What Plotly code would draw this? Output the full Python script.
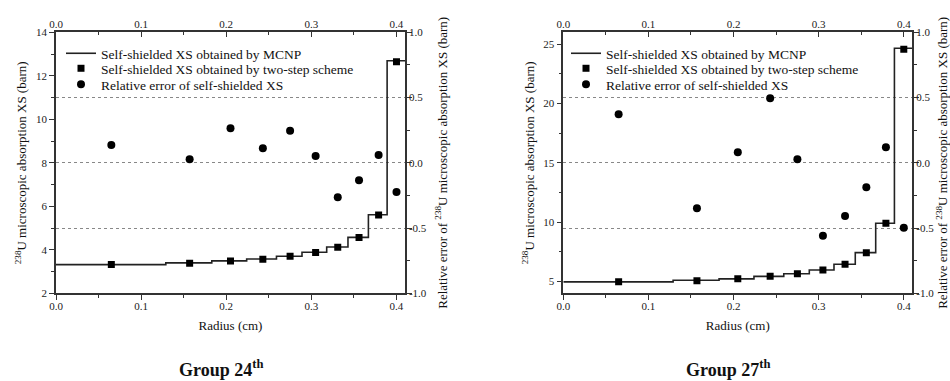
import plotly.graph_objects as go

# ---------------- data ----------------
ring_edges = [0.0, 0.129, 0.183, 0.224, 0.259, 0.289, 0.318, 0.343, 0.367, 0.389, 0.41]
ring_centers = [0.065, 0.157, 0.205, 0.243, 0.275, 0.305, 0.331, 0.356, 0.379, 0.400]

g24_mcnp = [3.32, 3.40, 3.49, 3.58, 3.70, 3.89, 4.13, 4.57, 5.61, 12.69]
g24_twostep = [3.32, 3.38, 3.48, 3.57, 3.70, 3.88, 4.12, 4.56, 5.60, 12.65]
g24_relerr = [0.136, 0.027, 0.264, 0.111, 0.246, 0.052, -0.264, -0.134, 0.060, -0.224]

g27_mcnp = [4.96, 5.10, 5.22, 5.43, 5.65, 5.97, 6.45, 7.43, 9.90, 24.65]
g27_twostep = [4.98, 5.06, 5.23, 5.43, 5.65, 5.96, 6.44, 7.42, 9.90, 24.57]
g27_relerr = [0.372, -0.349, 0.080, 0.494, 0.027, -0.559, -0.408, -0.188, 0.119, -0.497]

x_ticks = [0.0, 0.1, 0.2, 0.3, 0.4]
x_ticklabels = ["0.0", "0.1", "0.2", "0.3", "0.4"]
err_ticks = [-1.0, -0.5, 0.0, 0.5, 1.0]
err_ticklabels = ["-1.0", "-0.5", "0.0", "0.5", "1.0"]

legend_names = ["Self-shielded XS obtained by MCNP",
                "Self-shielded XS obtained by two-step scheme",
                "Relative error of self-shielded XS"]
group_labels = ["Group 24<sup>th</sup>", "Group 27<sup>th</sup>"]
x_title = "Radius (cm)"
yl_title = "<sup>238</sup>U microscopic absorption XS (barn)"
yr_title = "Relative error of <sup>238</sup>U microscopic absorption XS (barn)"

FONT = "Liberation Serif"
W, H = 950, 381

fig = go.Figure()

panels = [
    dict(mcnp=g24_mcnp, two=g24_twostep, err=g24_relerr, xa="x", xtop="x2", ya="y", ya2="y2",
         legends=["legend", "legend2", "legend3"]),
    dict(mcnp=g27_mcnp, two=g27_twostep, err=g27_relerr, xa="x3", xtop="x4", ya="y3", ya2="y4",
         legends=["legend4", "legend5", "legend6"]),
]

for p in panels:
    step_y = p["mcnp"] + [p["mcnp"][-1]]
    fig.add_trace(go.Scatter(x=ring_edges, y=step_y, mode="lines", line_shape="hv",
                             line=dict(color="#222", width=1.6), name=legend_names[0],
                             xaxis=p["xa"], yaxis=p["ya"], legend=p["legends"][0]))
    fig.add_trace(go.Scatter(x=ring_centers, y=p["two"], mode="markers",
                             marker=dict(symbol="square", size=7, color="black"),
                             name=legend_names[1], xaxis=p["xa"], yaxis=p["ya"], legend=p["legends"][1]))
    fig.add_trace(go.Scatter(x=ring_centers, y=p["err"], mode="markers",
                             marker=dict(symbol="circle", size=8, color="black"),
                             name=legend_names[2], xaxis=p["xa"], yaxis=p["ya2"], legend=p["legends"][2]))
    # invisible companion so the top radius axis is drawn
    fig.add_trace(go.Scatter(x=ring_centers, y=p["two"], mode="markers", marker=dict(opacity=0),
                             showlegend=False, hoverinfo="skip", xaxis=p["xtop"], yaxis=p["ya"]))

xd_left = [56 / W, 405 / W]
xd_right = [563.3 / W, 912.3 / W]
yd = [(H - 293.3) / H, (H - 32.3) / H]

tickfont = dict(family=FONT, size=11, color="#222")
titlefont = dict(family=FONT, size=13, color="#111")
common_axis = dict(showline=True, linecolor="#333", linewidth=1.5, tickfont=tickfont,
                   ticklen=5, tickwidth=1.2, tickcolor="#333", showgrid=False, zeroline=False,
                   automargin=False)

def xbottom(domain, anchor):
    return dict(common_axis, domain=domain, anchor=anchor, range=[0, 0.41], tickvals=x_ticks,
                ticktext=x_ticklabels, ticks="outside", ticklabelstandoff=-3,
                minor=dict(ticks="outside", ticklen=3, tickcolor="#333", dtick=0.05, tick0=0),
                title=dict(text=x_title, font=titlefont, standoff=10))

def xtop(overlay, anchor):
    return dict(common_axis, overlaying=overlay, anchor=anchor, side="top", range=[0, 0.41],
                tickvals=x_ticks, ticktext=x_ticklabels, ticklabelstandoff=-2,
                ticks="inside", minor=dict(ticks="inside", ticklen=3, tickcolor="#333", dtick=0.05, tick0=0))

def yleft(domain, anchor, rng, tv, minor_dt):
    return dict(common_axis, domain=domain, anchor=anchor, range=rng, tickvals=tv, ticks="outside",
                minor=dict(ticks="outside", ticklen=3, tickcolor="#333", dtick=minor_dt, tick0=0),
                title=dict(text=yl_title, font=titlefont, standoff=6))

def yright(overlay, anchor):
    return dict(common_axis, overlaying=overlay, anchor=anchor, side="right", range=[-1, 1],
                tickvals=err_ticks, ticktext=err_ticklabels, ticklabelstandoff=-5,
                ticks="outside", showgrid=True, gridcolor="#888", griddash="dot", gridwidth=1,
                minor=dict(ticks="outside", ticklen=3, tickcolor="#333", dtick=0.25, tick0=0),
                title=dict(text=yr_title, font=titlefont, standoff=12))

legend_common = dict(xanchor="left", yanchor="top", bgcolor="rgba(0,0,0,0)",
                     font=dict(family=FONT, size=13.5, color="#111"), tracegroupgap=0, itemwidth=30)
row_tops = [38.0, 53.0, 69.0]

legend_layout = {}
for i, top in enumerate(row_tops):
    legend_layout["legend" if i == 0 else "legend%d" % (i + 1)] = dict(legend_common, x=61 / W, y=1 - top / H)
    legend_layout["legend%d" % (i + 4)] = dict(legend_common, x=566 / W, y=1 - top / H)

fig.update_layout(
    width=W, height=H, margin=dict(l=0, r=0, t=0, b=0, autoexpand=False),
    paper_bgcolor="white", plot_bgcolor="white",
    font=dict(family=FONT, color="#111"),
    xaxis=xbottom(xd_left, "y"),
    xaxis2=xtop("x", "y"),
    yaxis=yleft(yd, "x", [2, 14], [2, 4, 6, 8, 10, 12, 14], 1),
    yaxis2=yright("y", "x"),
    xaxis3=xbottom(xd_right, "y3"),
    xaxis4=xtop("x3", "y3"),
    yaxis3=yleft(yd, "x3", [4, 26], [5, 10, 15, 20, 25], 2.5),
    yaxis4=yright("y3", "x3"),
    showlegend=True,
    annotations=[
        dict(text="<b>" + group_labels[0] + "</b>", x=220.5 / W, y=1 - 368 / H, xref="paper", yref="paper",
             xanchor="center", yanchor="middle",
             showarrow=False, font=dict(family=FONT, size=18, color="#111")),
        dict(text="<b>" + group_labels[1] + "</b>", x=727.5 / W, y=1 - 368 / H, xref="paper", yref="paper",
             xanchor="center", yanchor="middle",
             showarrow=False, font=dict(family=FONT, size=18, color="#111")),
    ],
    **legend_layout,
)

fig.write_html("out.html", config={"displayModeBar": False},
               post_script="document.body.style.margin='0px';")
